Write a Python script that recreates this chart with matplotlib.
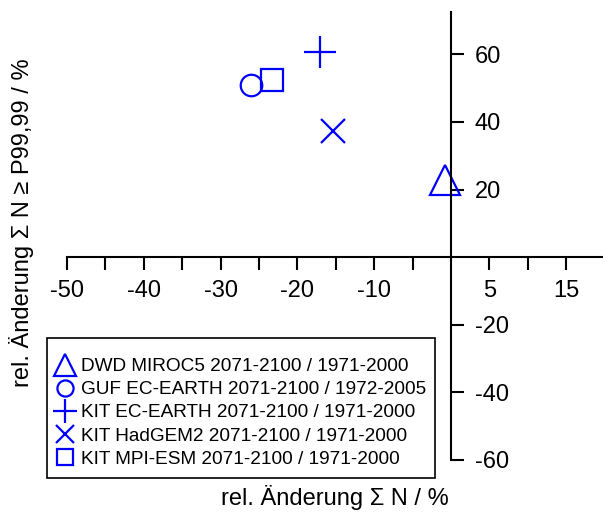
import matplotlib
matplotlib.use("Agg")
import matplotlib.pyplot as plt
from matplotlib.patches import Rectangle

plt.rcParams['font.family'] = ['Liberation Sans', 'DejaVu Sans']

labels = ["DWD MIROC5 2071-2100 / 1971-2000",
          "GUF EC-EARTH 2071-2100 / 1972-2005",
          "KIT EC-EARTH 2071-2100 / 1971-2000",
          "KIT HadGEM2 2071-2100 / 1971-2000",
          "KIT MPI-ESM 2071-2100 / 1971-2000"]
x_vals = [-0.8, -26.0, -17.1, -15.3, -23.3]
y_vals = [22.8, 51.0, 60.8, 37.4, 52.5]
markers = ['^', 'o', '+', 'x', 's']
msizes = {'^': 21, 'o': 15.5, '+': 23.5, 'x': 17, 's': 16}

xticks = [-50, -45, -40, -35, -30, -25, -20, -15, -10, -5, 5, 10, 15]
xticklabels = ['-50', '', '-40', '', '-30', '', '-20', '', '-10', '', '5', '', '15']
yticks = [-60, -40, -20, 20, 40, 60]

W, H = 603, 516
fig = plt.figure(figsize=(W / 100, H / 100), dpi=100)
ax = fig.add_axes([67/W, 56/H, 536/W, 448/H])
ax.set_xlim(-50, 19.8)
ax.set_ylim(-60, 72.5)

blue = (0, 0, 1)
for xv, yv, m, lab in zip(x_vals, y_vals, markers, labels):
    if m in ('+', 'x'):
        ax.plot([xv], [yv], linestyle='none', marker=m, markersize=msizes[m],
                markeredgewidth=1.6, color=blue, label=lab, clip_on=False)
    else:
        ax.plot([xv], [yv], linestyle='none', marker=m, markersize=msizes[m],
                markerfacecolor='none', markeredgecolor=blue, markeredgewidth=1.6,
                label=lab, clip_on=False)

for s in ['top', 'left']:
    ax.spines[s].set_visible(False)
ax.spines['right'].set_position(('data', 0))
ax.spines['bottom'].set_position(('data', 0))
for s in ['right', 'bottom']:
    ax.spines[s].set_linewidth(1.5)

ax.yaxis.set_ticks_position('right')
ax.xaxis.set_ticks_position('bottom')
ax.set_yticks(yticks)
ax.set_yticklabels([str(v) for v in yticks])
ax.set_xticks(xticks)
ax.set_xticklabels(xticklabels)
ax.tick_params(axis='both', direction='out', length=9, width=1.5, labelsize=17)
ax.tick_params(axis='x', pad=7.5)
ax.tick_params(axis='y', pad=8)

fig.text(335/W, 1 - 498/H, "rel. Änderung Σ N / %", ha='center', va='center', fontsize=17)
fig.text(22/W, 1 - 223/H, "rel. Änderung Σ N ≥ P99,99 / %", ha='center', va='center',
         rotation=90, fontsize=17)

# legend frame
fig.patches.append(Rectangle((47/W, 1 - 478/H), (435 - 47)/W, (478 - 338)/H,
                             transform=fig.transFigure, fill=False,
                             edgecolor='black', linewidth=1.2, zorder=5))
leg = ax.legend(loc='lower left', bbox_to_anchor=(45/W, 1 - 478/H),
                bbox_transform=fig.transFigure, fontsize=13.7, frameon=False,
                handlelength=1.0, handletextpad=0.35,
                labelspacing=0.3, borderpad=0.55, borderaxespad=0, markerscale=0.75)

fig.savefig("out.png", dpi=100)
